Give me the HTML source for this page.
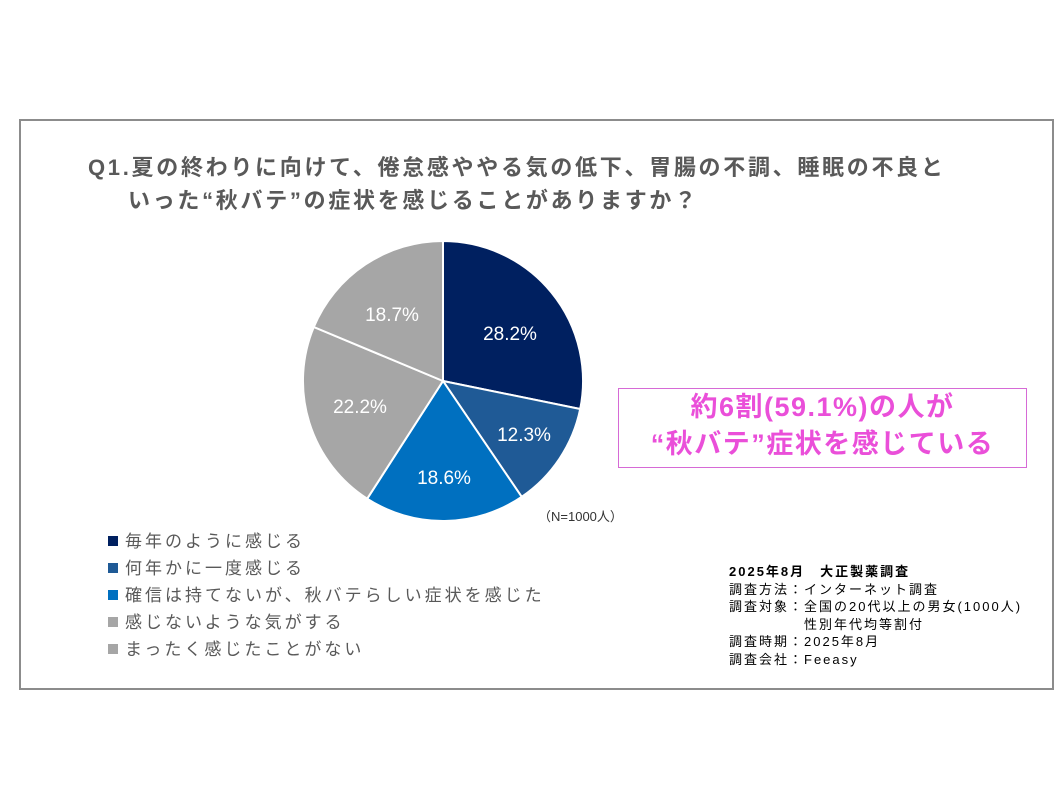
<!DOCTYPE html>
<html><head><meta charset="utf-8"><style>
body{margin:0;width:1062px;height:796px;background:#fff;position:relative;overflow:hidden;font-family:"Liberation Sans","Noto Sans CJK JP",sans-serif}
.box{position:absolute;left:19px;top:119px;width:1031px;height:567px;border:2px solid #8c8c8c}
.t{position:absolute;font-weight:bold;color:#595959;font-size:22px;white-space:nowrap;letter-spacing:2.7px}
.lg{position:absolute;left:108px;font-size:17px;color:#595959;white-space:nowrap;letter-spacing:3px}
.lg span{display:inline-block;width:10px;height:10px;margin-right:7px;vertical-align:1px}
.pk{position:absolute;left:618px;top:388px;width:407px;height:78px;border:1px solid #d66ad6;color:#ea4fd9;font-weight:bold;font-size:27px;text-align:center;line-height:37px;letter-spacing:1.5px}
.info{position:absolute;left:729px;top:563px;font-size:13px;color:#000;line-height:17.5px;white-space:nowrap;letter-spacing:2px}
</style></head><body>
<div class="box"></div>
<div class="t" style="left:88px;top:150px">Q1.夏の終わりに向けて、倦怠感ややる気の低下、胃腸の不調、睡眠の不良と</div>
<div class="t" style="left:128px;top:183px">いった“秋バテ”の症状を感じることがありますか？</div>
<svg style="position:absolute;left:0;top:0" width="1062" height="796">
<g stroke="#fff" stroke-width="2">
<path d="M443,381 L443,241 A140,140 0 0 1 580.2,409 Z" fill="#002060"/>
<path d="M443,381 L580.2,409 A140,140 0 0 1 521.7,496.8 Z" fill="#1f5a96"/>
<path d="M443,381 L521.7,496.8 A140,140 0 0 1 367.2,498.7 Z" fill="#0070c0"/>
<path d="M443,381 L367.2,498.7 A140,140 0 0 1 313.8,327 Z" fill="#a6a6a6"/>
<path d="M443,381 L313.8,327 A140,140 0 0 1 443,241 Z" fill="#a6a6a6"/>
</g>
<g fill="#fff" font-size="19" text-anchor="middle" font-family="Liberation Sans, sans-serif">
<text x="510" y="340">28.2%</text>
<text x="524" y="441">12.3%</text>
<text x="444" y="484">18.6%</text>
<text x="360" y="413">22.2%</text>
<text x="392" y="321">18.7%</text>
</g>
<text x="538" y="521" font-size="13" fill="#333" font-family="Liberation Sans, Noto Sans CJK JP, sans-serif">（N=1000人）</text>
</svg>
<div class="lg" style="top:527px"><span style="background:#002060"></span>毎年のように感じる</div>
<div class="lg" style="top:554px"><span style="background:#1f5a96"></span>何年かに一度感じる</div>
<div class="lg" style="top:581px"><span style="background:#0070c0"></span>確信は持てないが、秋バテらしい症状を感じた</div>
<div class="lg" style="top:608px"><span style="background:#a6a6a6"></span>感じないような気がする</div>
<div class="lg" style="top:635px"><span style="background:#a6a6a6"></span>まったく感じたことがない</div>
<div class="pk">約6割(59.1%)の人が<br>“秋バテ”症状を感じている</div>
<div class="info"><b>2025年8月　大正製薬調査</b><br>調査方法：インターネット調査<br>調査対象：全国の20代以上の男女(1000人)<br>　　　　　性別年代均等割付<br>調査時期：2025年8月<br>調査会社：Feeasy</div>
</body></html>
